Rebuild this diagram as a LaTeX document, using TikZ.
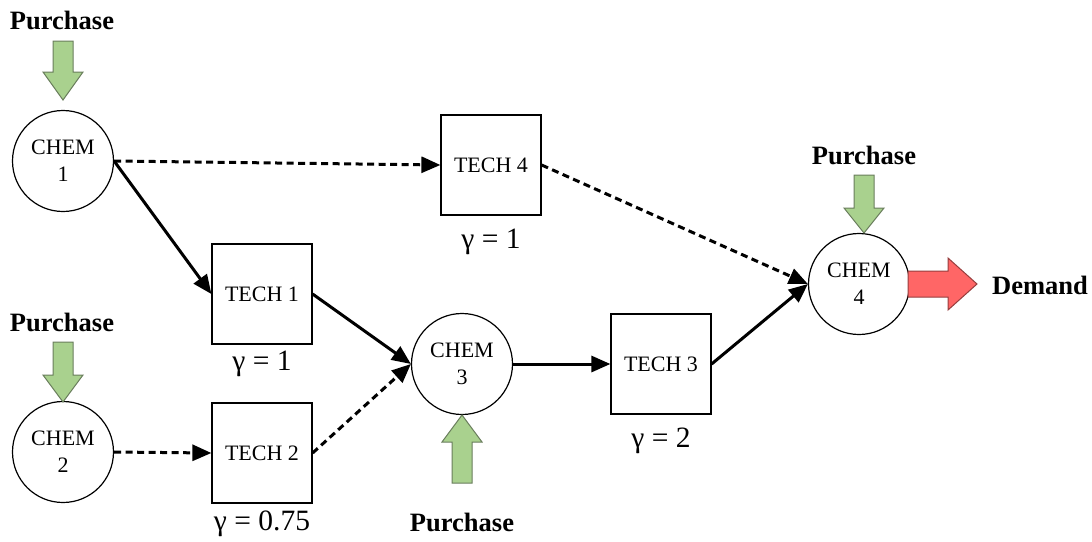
\documentclass[tikz,border=0pt]{standalone}
\usepackage{fontspec}
\setmainfont{Liberation Serif}
\usetikzlibrary{arrows.meta}
\definecolor{buyfill}{RGB}{169,209,142}
\definecolor{buyedge}{RGB}{105,125,92}
\definecolor{sellfill}{RGB}{255,102,102}
\definecolor{selledge}{RGB}{150,62,62}

\begin{document}
\begin{tikzpicture}[x=1pt,y=-1pt,
  chem/.style={circle,draw,line width=1.2pt,minimum size=101pt,inner sep=0pt,
    align=center,font=\fontsize{22}{27}\selectfont},
  tech/.style={rectangle,draw,line width=1.2pt,minimum size=100pt,inner sep=0pt,
    font=\fontsize{22}{26}\selectfont},
  yield/.style={inner sep=0pt,font=\fontsize{29.5}{32}\selectfont},
  flowlabel/.style={inner sep=0pt,font=\bfseries\fontsize{26.5}{30}\selectfont},
  mainflow/.style={line width=3pt,-{Triangle[length=19pt,width=16pt]}},
  sideflow/.style={mainflow,dash pattern=on 7pt off 4.5pt},
  buy/.style={fill=buyfill,draw=buyedge,line width=1pt,line join=miter},
  sell/.style={fill=sellfill,draw=selledge,line width=1pt,line join=miter}]

\useasboundingbox (0,0) rectangle (1092,541);

% chemicals
\node[chem] (c1) at (63,161) {CHEM\\1};
\node[chem] (c2) at (63,452) {CHEM\\2};
\node[chem] (c3) at (462,364) {CHEM\\3};
\node[chem] (c4) at (859,284) {CHEM\\4};

% technologies
\node[tech] (t1) at (262,294) {TECH 1};
\node[tech] (t2) at (262,453) {TECH 2};
\node[tech] (t3) at (661,364) {TECH 3};
\node[tech] (t4) at (491,165) {TECH 4};

% yields
\node[yield] (g1) at (262,364) {γ = 1};
\node[yield] (g2) at (262,524) {γ = 0.75};
\node[yield] (g3) at (661,441) {γ = 2};
\node[yield] (g4) at (491,242) {γ = 1};

% purchase inflows
\path[buy] (63,100) -- ++(-20,-28) -- ++(10,0) -- ++(0,-31) -- ++(20,0)
  -- ++(0,31) -- ++(10,0) -- cycle;
\path[buy] (63,402) -- ++(-20,-27) -- ++(10,0) -- ++(0,-33) -- ++(20,0)
  -- ++(0,33) -- ++(10,0) -- cycle;
\path[buy] (864,233) -- ++(-20,-25) -- ++(10,0) -- ++(0,-33) -- ++(20,0)
  -- ++(0,33) -- ++(10,0) -- cycle;
\path[buy] (462,415) -- ++(-20,27) -- ++(10,0) -- ++(0,41) -- ++(20,0)
  -- ++(0,-41) -- ++(10,0) -- cycle;

% demand outflow
\path[sell] (977,284) -- ++(-29,-26) -- ++(0,13) -- ++(-40,0) -- ++(0,26)
  -- ++(40,0) -- ++(0,13) -- cycle;

\node[flowlabel] (p1) at (62,20) {Purchase};
\node[flowlabel] (p2) at (62,322) {Purchase};
\node[flowlabel] (p4) at (864,155) {Purchase};
\node[flowlabel] (p3) at (462,522) {Purchase};
\node[flowlabel] (dem) at (1040,285) {Demand};

% material flows
\draw[mainflow] (c1.east) -- (t1.west);
\draw[sideflow] (c1.east) -- (t4.west);
\draw[sideflow] (c2.east) -- (t2.west);
\draw[mainflow] (t1.east) -- (c3.west);
\draw[sideflow] (t2.east) -- (c3.west);
\draw[mainflow] (c3.east) -- (t3.west);
\draw[mainflow] (t3.east) -- (c4.west);
\draw[sideflow] (t4.east) -- (c4.west);
\end{tikzpicture}
\end{document}
